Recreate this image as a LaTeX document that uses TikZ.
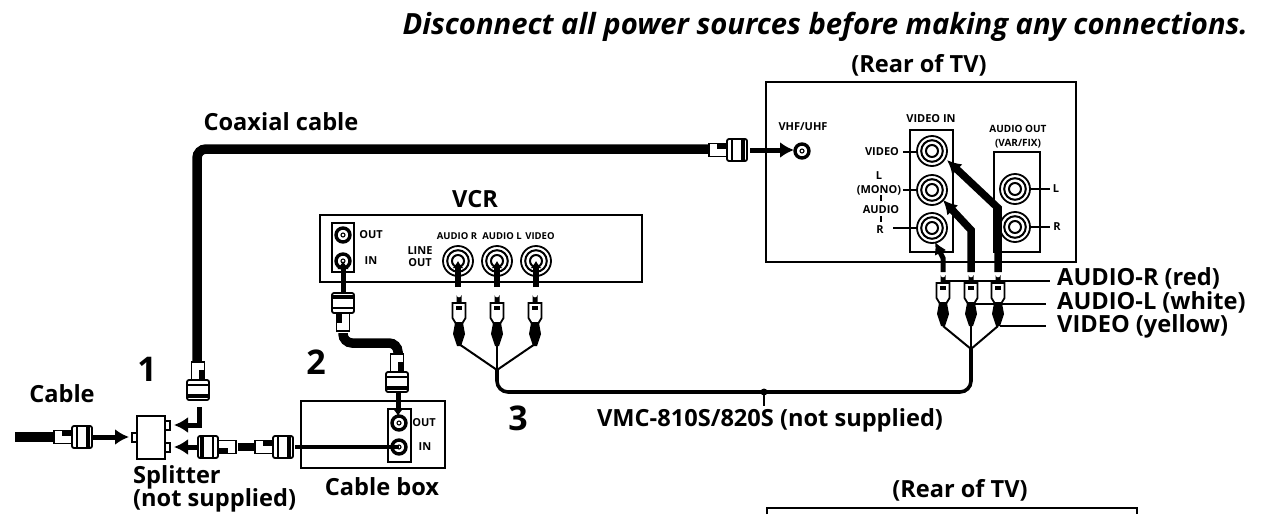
\documentclass[tikz,border=0pt]{standalone}
\usepackage{fontspec}
\setmainfont{Open Sans}
\usetikzlibrary{calc, arrows.meta}

\tikzset{
  lbl/.style={font=\fontsize{23.6}{26}\selectfont\bfseries, inner sep=0pt},
  tiny/.style={font=\fontsize{11}{12}\selectfont\bfseries, inner sep=0pt},
  small/.style={font=\fontsize{9.5}{11}\selectfont\bfseries, inner sep=0pt},
  num/.style={font=\fontsize{34}{36}\selectfont\bfseries, inner sep=0pt},
  box/.style={draw, line width=1.8pt},
  wire/.style={line width=9.5pt, line cap=butt},
  fork/.style={line width=2pt},
  tag/.style={line width=1.8pt},
  pointer/.style={line width=5pt, -{Latex[length=14pt,width=16pt]}},
  fat pointer/.style={line width=7.5pt, line cap=butt, -{Latex[length=14pt,width=15pt]}},
  stem/.style={line width=6pt, -{Latex[length=7pt,width=11pt]}},
  plugpart/.style={draw, fill=white, line width=1.8pt}
}

% pin jack
\newcommand{\rcajack}[2]{
  \draw[line width=1.8pt] (#1) circle (#2pt);
  \draw[line width=2pt] (#1) circle (#2pt*0.72);
  \draw[line width=2pt] (#1) circle (#2pt*0.4);
}
% antenna jack
\newcommand{\antjack}[1]{
  \draw[line width=3.4pt] (#1) circle (7pt);
  \draw[line width=1.1pt] (#1) circle (2pt);
}
% coax plug: tip at #1, rotation #2, 0 = pointing right
\newcommand{\coaxplug}[2]{
  \begin{scope}[shift={(#1)}, rotate=#2]
    \draw[plugpart] (-38,-6.5) rectangle (-20,6.5);
    \fill (-30,-6.5) rectangle (-20,-1);
    \draw[plugpart, rounded corners=2pt] (-20,-11) rectangle (0,11);
    \draw[line width=1.6pt] (-15,-11) -- (-15,11) (-5,-11) -- (-5,11);
    \fill (-5,-11) rectangle (-2,11);
  \end{scope}
}
% pin plug: tip at #1, pointing up
\newcommand{\pinplug}[1]{
  \begin{scope}[shift={(#1)}]
    \fill (-2.5,11) -- (-2.5,3) arc (180:0:2.5) -- (2.5,11) -- cycle;
    \draw[plugpart] (-6.5,11) -- (6.5,11) -- (6.5,26) -- (3.5,31) -- (-3.5,31) -- (-6.5,26) -- cycle;
    \fill (-3,14) rectangle (3,18);
    \fill (-4,31) -- (4,31) -- (6,42) -- (2,54) -- (-2,54) -- (-6,42) -- cycle;
  \end{scope}
}

\begin{document}
\begin{tikzpicture}[x=1pt, y=-1pt]

\useasboundingbox (0,0) rectangle (1265,514);

\node[font=\fontsize{29.2}{32}\selectfont\bfseries\itshape, inner sep=0pt, anchor=base east] (title) at (1248,34) {Disconnect all power sources before making any connections.};

% rear of TV
\node[lbl] (reartv) at (919,65) {(Rear of TV)};
\draw[box] (766,82) rectangle (1076,262);
\draw[box] (910,130) rectangle (953,252);
\draw[box] (994,152) rectangle (1040,252);

\coordinate (vhf) at (802,151);
\coordinate (vidv) at (932,151);
\coordinate (vidl) at (932,190);
\coordinate (vidr) at (932,228);
\coordinate (outl) at (1015,189);
\coordinate (outr) at (1015,227);

\antjack{vhf}
\rcajack{vidv}{15}
\rcajack{vidl}{15}
\rcajack{vidr}{15}
\rcajack{outl}{15}
\rcajack{outr}{15}

\node[tiny] (vhflbl) at (803,127) {VHF/UHF};
\node[tiny] (vinlbl) at (931,119) {VIDEO IN};
\node[tiny, align=center, font=\fontsize{10}{14}\selectfont\bfseries] (aoutlbl) at (1018,137) {AUDIO OUT\\(VAR/FIX)};
\node[tiny] (vlbl) at (882,152) {VIDEO};
\node[tiny] (llbl) at (879,176) {L};
\node[tiny] (monolbl) at (879,190) {(MONO)};
\node[tiny] (alolbl) at (881,210) {AUDIO};
\node[tiny] (rlbl) at (880,230) {R};
\node[tiny] (outllbl) at (1056,189) {L};
\node[tiny] (outrlbl) at (1057,227) {R};

\draw[tag] (903,152) -- (917,152);
\draw[tag] (903,190) -- (917,190);
\draw[tag] (893,228) -- (917,228);
\draw[tag] (1030,189) -- (1050,189);
\draw[tag] (1030,227) -- (1050,227);
\draw[tag] (881,195) -- (881,201) (881,216) -- (881,222);

% pin plugs at the TV
\coordinate (plugr) at (943,272);
\coordinate (plugl) at (971,272);
\coordinate (plugv) at (998,272);

% thick arrows to the TV
\draw[fat pointer] (plugv) -- (998,208) -- (947,160);
\draw[fat pointer] (plugl) -- (971,230) -- (943,200);
\draw[pointer, -{Latex[length=12pt,width=13pt]}] (plugr) -- (943,258) -- (935,242);

\pinplug{plugr}
\pinplug{plugl}
\pinplug{plugv}

\coordinate (tvjoin) at (971,349);
\coordinate (cableend) at (971,392);
\draw[fork] ($(plugr)+(0,54)$) -- (tvjoin) -- ($(plugv)+(0,54)$);
\draw[fork] ($(plugl)+(0,54)$) -- (tvjoin);

% colour tags
\node[lbl, anchor=west] (redlbl) at (1057,278) {AUDIO-R (red)};
\node[lbl, anchor=west] (whitelbl) at (1057,302) {AUDIO-L (white)};
\node[lbl, anchor=west] (yellowlbl) at (1057,326) {VIDEO (yellow)};
\draw[tag] (plugr |- redlbl) ++(0,3) -- (1050,281);
\draw[tag] (975,304) -- (1046,304);
\draw[tag] (1000,326) -- (1046,326);

% VCR
\node[lbl] (vcrlbl) at (475,199) {VCR};
\draw[box] (320,215) rectangle (642,282);
\draw[box] (332,223) rectangle (354,272);
\coordinate (vcrout) at (343,235);
\coordinate (vcrin) at (343,261);
\coordinate (linr) at (458,261);
\coordinate (linl) at (497,261);
\coordinate (linv) at (536,261);
\antjack{vcrout}
\antjack{vcrin}
\rcajack{linr}{15}
\rcajack{linl}{15}
\rcajack{linv}{15}
\node[tiny] (vcroutlbl) at (371,235) {OUT};
\node[tiny] (vcrinlbl) at (371,261) {IN};
\node[tiny, align=center] (lineoutlbl) at (420,257) {LINE\\OUT};
\node[small] (arlbl) at (457,236) {AUDIO R};
\node[small] (allbl) at (502,236) {AUDIO L};
\node[small] (vidlbl) at (540,236) {VIDEO};

\draw[stem] (458,287) -- (linr);
\draw[stem] (497,287) -- (linl);
\draw[stem] (536,287) -- (linv);

\coordinate (vplugr) at (459,292);
\coordinate (vplugl) at (497,292);
\coordinate (vplugv) at (535,292);
\pinplug{vplugr}
\pinplug{vplugl}
\pinplug{vplugv}

\coordinate (vcrjoin) at (497,370);
\draw[fork] ($(vplugr)+(0,52)$) -- (vcrjoin) -- ($(vplugv)+(0,52)$);
\draw[fork] ($(vplugl)+(0,52)$) -- (vcrjoin);
\draw[line width=3.6pt, rounded corners=11pt] (vcrjoin) -- (497,392) -- (cableend) -- (tvjoin);
\coordinate (vmctick) at (764,392);
\draw[tag] (vmctick) -- (764,406);
\fill (vmctick) circle (3.5pt);
\node[lbl] (vmclbl) at (770,420) {VMC-810S/820S (not supplied)};

% coaxial cable, splitter to TV
\node[lbl] (coaxlbl) at (281,122) {Coaxial cable};
\draw[wire, rounded corners=9pt] (197,362) -- (197,149) -- (709,149);
\coaxplug{747,150}{0}
\coaxplug{198,400}{-90}
\draw[pointer] (750,150) -- (794,150);

% cable box to VCR
\draw[wire, rounded corners=9pt] (343,333) -- (343,343) -- (398,343) -- (398,355);
\coaxplug{343,293}{90}
\coaxplug{397,392}{-90}
\draw[line width=5pt, -{Latex[length=8pt,width=12pt]}] (343,293) -- (vcrin);
\draw[line width=5pt, -{Latex[length=8pt,width=12pt]}] (398,392) -- (398,416);

% cable box
\draw[box] (301,401) rectangle (445,468);
\draw[box] (388,409) rectangle (411,462);
\coordinate (boxout) at (399,423);
\coordinate (boxin) at (399,447);
\antjack{boxout}
\antjack{boxin}
\node[tiny] (boxoutlbl) at (424,423) {OUT};
\node[tiny] (boxinlbl) at (425,447) {IN};
\node[lbl] (boxlbl) at (382,487) {Cable box};
\draw[line width=4pt] (295,447) -- (boxin);

% splitter
\draw[box] (137,416) rectangle (165,459);
\draw[box] (165,421) rectangle (170,430);
\draw[box] (165,443) rectangle (170,452);
\draw[box] (132,433) rectangle (137,442);
\node[lbl, anchor=west] (splitlbl) at (133,477) {Splitter};
\node[lbl, anchor=west] (nslbl) at (133,500) {(not supplied)};

\draw[pointer, line join=miter] (199,407) -- (199,425) -- (174,425);
\draw[pointer] (198,447) -- (174,447);
\draw[wire, line width=8pt] (238,447) -- (255,447);
\coaxplug{198,447}{180}
\coaxplug{293,447}{0}

% incoming cable
\node[lbl] (cablelbl) at (62,394) {Cable};
\draw[wire] (15,437) -- (54,437);
\coaxplug{92,437}{0}
\draw[pointer] (92,437) -- (129,437);

\node[num] (nfirst) at (147,369) {1};
\node[num] (nsecond) at (316,362) {2};
\node[num] (nthird) at (518,418) {3};

% second rear of TV
\node[lbl] (reartvb) at (960,490) {(Rear of TV)};
\draw[box] (767,514) -- (767,508) -- (1137,508) -- (1137,514);

\end{tikzpicture}
\end{document}
